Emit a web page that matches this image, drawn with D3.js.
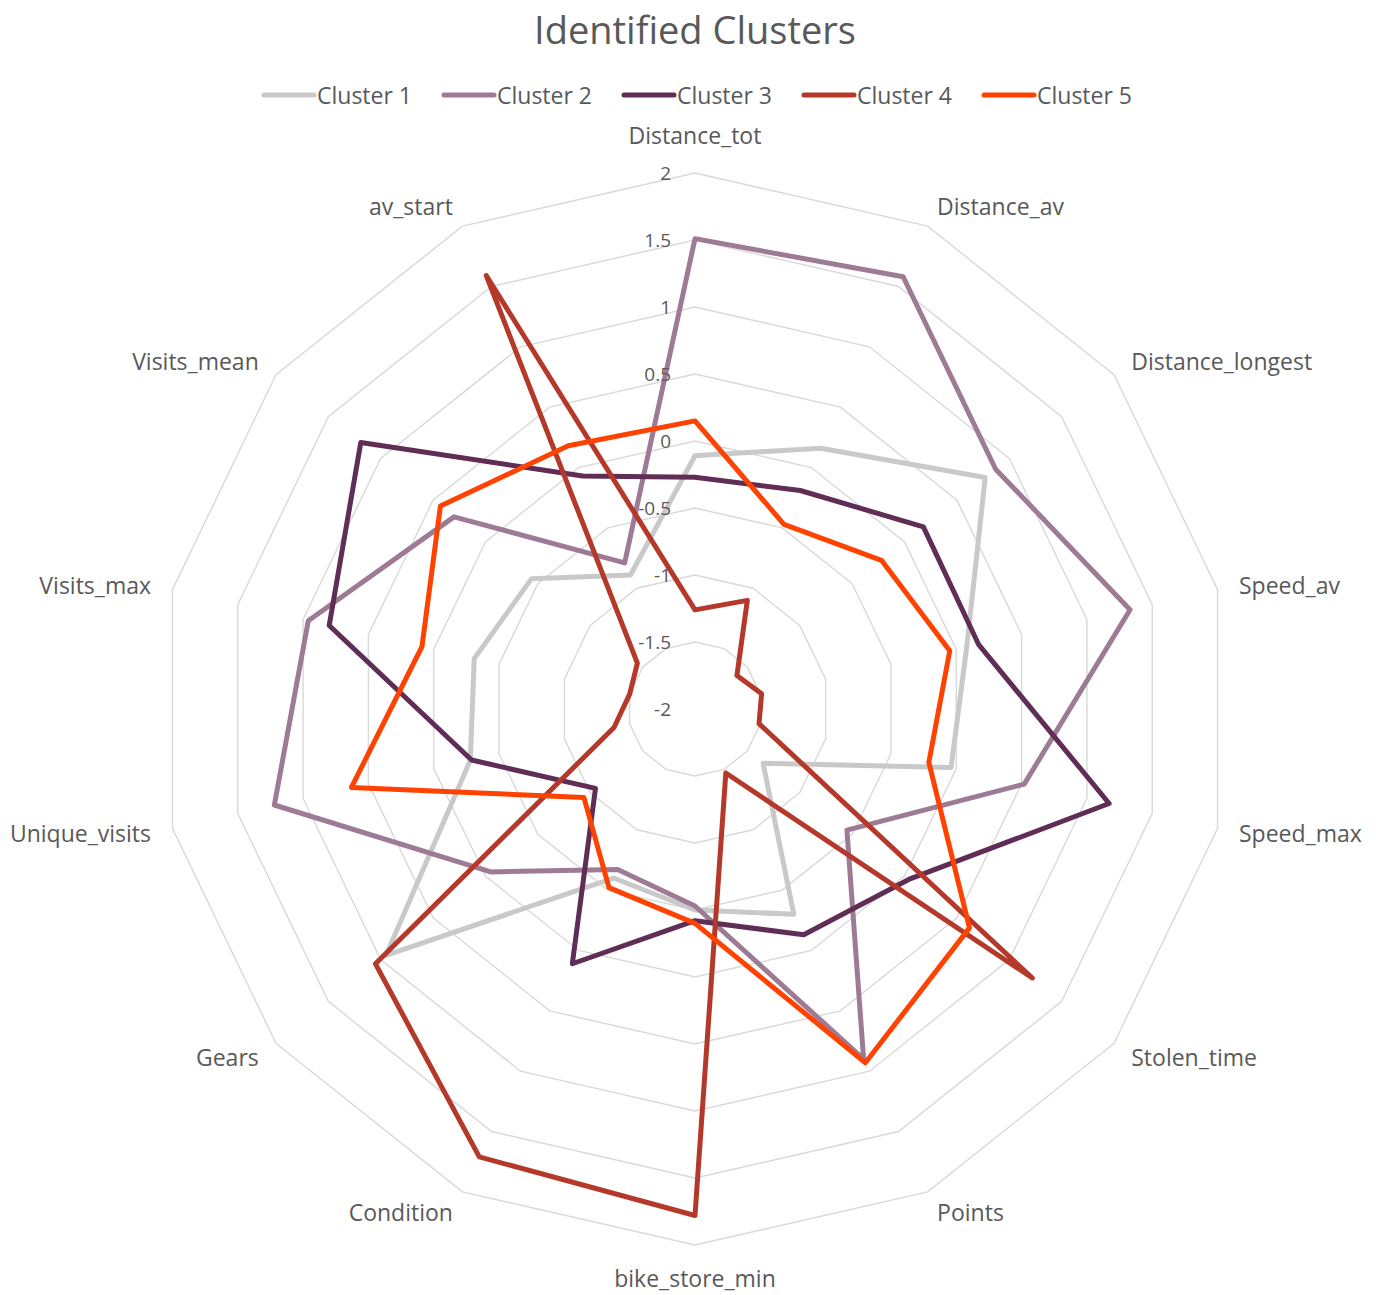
<!DOCTYPE html>
<html>
<head>
<meta charset="utf-8">
<title>Identified Clusters</title>
<script src="https://cdn.jsdelivr.net/npm/d3@7"></script>
<style>
  body { margin: 0; background: #fff; }
  #chart text { font-family: "Open Sans", sans-serif; fill: #595959; }
</style>
</head>
<body>
<div id="chart"></div>
<script>
var axes = ['Distance_tot', 'Distance_av', 'Distance_longest', 'Speed_av', 'Speed_max',
    'Stolen_time', 'Points', 'bike_store_min', 'Condition', 'Gears',
    'Unique_visits', 'Visits_max', 'Visits_mean', 'av_start'];

var seriesNames = ['Cluster 1', 'Cluster 2', 'Cluster 3', 'Cluster 4', 'Cluster 5'];

var cluster1 = [-0.11, 0.16, 0.77, 0.08, -0.04, -1.35, -0.30, -0.50, -0.60, 0.95, -0.28, -0.31, -0.44, -0.89];
var cluster2 = [1.51, 1.58, 0.87, 1.33, 0.52, -0.55, 0.90, -0.53, -0.67, -0.05, 1.22, 0.96, 0.30, -0.79];
var cluster3 = [-0.27, -0.19, 0.18, 0.17, 1.17, 0.04, -0.13, -0.42, 0.11, -1.05, -0.29, 0.80, 1.19, -0.07];
var cluster4 = [-1.26, -1.10, -1.60, -1.49, -1.51, 1.22, -1.47, 1.78, 1.71, 1.05, -1.38, -1.50, -1.45, 1.59];
var cluster5 = [0.15, -0.47, -0.22, -0.05, -0.21, 0.62, 0.93, -0.40, -0.52, -0.94, 0.63, 0.09, 0.43, 0.18];

var tickValues = [-2, -1.5, -1, -0.5, 0, 0.5, 1, 1.5, 2];

var colors = ['#c9c9c9', '#9e7b95', '#5f2d55', '#b5392b', '#ff4200'];

var width = 1376;
var height = 1295;
var cx = 695, cy = 709;
var R = 536;

var series = [cluster1, cluster2, cluster3, cluster4, cluster5].map(function(values, i){
    return { name: seriesNames[i], color: colors[i], values: values };
});

var svg = d3.select('#chart')
    .append('svg')
    .attr('width', width)
    .attr('height', height);

var viewport = svg.append('g')
    .attr('transform', 'translate(' + cx + ',' + cy + ')');

var r = d3.scaleLinear().domain([-2, 2]).range([0, R]);

var angle = d3.scalePoint()
    .domain(d3.range(axes.length + 1))
    .range([0, 2 * Math.PI]);

function point(i, v){
    var a = angle(i % axes.length);
    return [Math.sin(a) * r(v), -Math.cos(a) * r(v)];
}

// grid polygons
var radial = d3.lineRadial()
    .angle(function(d, i){ return angle(i); })
    .radius(function(d){ return r(d); })
    .curve(d3.curveLinearClosed);

viewport.selectAll('path.grid')
    .data(tickValues.filter(function(t){ return t > -2; }))
    .enter()
    .append('path')
    .attr('class', 'grid')
    .attr('d', function(t){ return radial(axes.map(function(){ return t; })); })
    .attr('fill', 'none')
    .attr('stroke', '#d9d9d9')
    .attr('stroke-width', 1.4);

// axis labels
viewport.selectAll('text.axis')
    .data(axes)
    .enter()
    .append('text')
    .attr('class', 'axis')
    .each(function(d, i){
        var a = angle(i);
        var s = Math.sin(a), c = Math.cos(a);
        var vertical = Math.abs(s) < 0.01;
        var rr = R + (vertical ? (c > 0 ? 38 : 33) : 22);
        d3.select(this)
            .attr('x', s * rr)
            .attr('y', -c * rr)
            .attr('text-anchor', vertical ? 'middle' : (s > 0 ? 'start' : 'end'));
    })
    .attr('dominant-baseline', 'central')
    .style('font-size', '23px')
    .text(function(d){ return d; });

// series lines
var line = d3.line()
    .x(function(d){ return d[0]; })
    .y(function(d){ return d[1]; })
    .curve(d3.curveLinearClosed);

viewport.selectAll('path.series')
    .data(series)
    .enter()
    .append('path')
    .attr('class', 'series')
    .attr('d', function(s){
        return line(s.values.map(function(v, i){ return point(i, v); }));
    })
    .attr('fill', 'none')
    .attr('stroke', function(s){ return s.color; })
    .attr('stroke-width', 5)
    .attr('stroke-linejoin', 'round');

// tick labels, on top of the lines
viewport.selectAll('text.tick')
    .data(tickValues)
    .enter()
    .append('text')
    .attr('class', 'tick')
    .attr('x', -24)
    .attr('y', function(t){ return -r(t); })
    .attr('text-anchor', 'end')
    .attr('dominant-baseline', 'central')
    .style('font-size', '19px')
    .text(function(t){ return String(t); });

// title
svg.append('text')
    .attr('x', cx)
    .attr('y', 29)
    .attr('text-anchor', 'middle')
    .attr('dominant-baseline', 'central')
    .style('font-size', '38px')
    .text('Identified Clusters');

// legend
var legend = svg.append('g');
var x = 0;
series.forEach(function(s){
    var item = legend.append('g').attr('transform', 'translate(' + x + ',0)');
    item.append('line')
        .attr('x1', 0).attr('x2', 50)
        .attr('y1', 0).attr('y2', 0)
        .attr('stroke', s.color)
        .attr('stroke-width', 5)
        .attr('stroke-linecap', 'round');
    var t = item.append('text')
        .attr('x', 53)
        .attr('y', 0)
        .attr('dominant-baseline', 'central')
        .style('font-size', '23px')
        .text(s.name);
    x += 53 + t.node().getComputedTextLength() + 32;
});
var legendWidth = x - 32;
legend.attr('transform', 'translate(' + (698 - legendWidth / 2) + ',95)');
</script>
</body>
</html>
